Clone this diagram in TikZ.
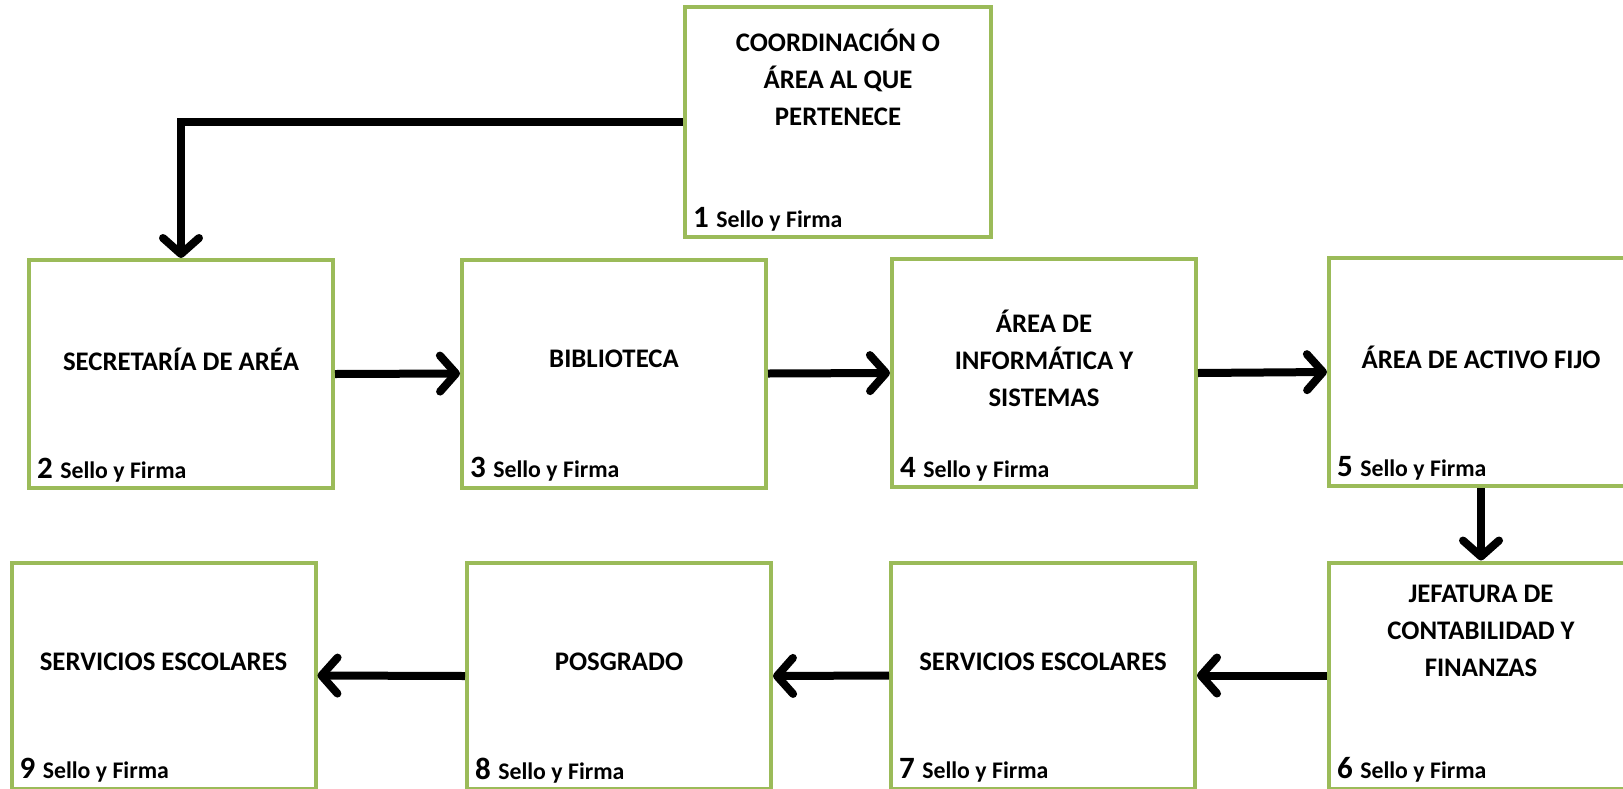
\documentclass[tikz,border=0pt]{standalone}
\usepackage{fontspec}
\setmainfont{Carlito}
\usetikzlibrary{arrows.meta,positioning}
\definecolor{boxgreen}{HTML}{9BBB59}
\tikzset{
  box/.style={draw=boxgreen, line width=4pt, minimum width=304pt,
    minimum height=228pt, inner sep=0pt},
  rowtwo/.style={box, minimum height=228pt},
  rowthree/.style={box, minimum height=226pt},
  title/.style={align=center, inner sep=0pt,
    font=\bfseries\fontsize{26.8}{37}\selectfont},
  sign/.style={anchor=base west, inner sep=0pt,
    font=\bfseries\fontsize{23.8}{24}\selectfont},
  arr/.style={line width=8pt,
    -{Straight Barb[length=16pt, width=36pt, line width=8pt, round]}}
}
\begin{document}
\begin{tikzpicture}[x=1pt, y=-1pt]
  \useasboundingbox (0,0) rectangle (1623,788);
  \clip (0,0) rectangle (1623,788);

  % boxes
  \node[box, minimum width=306pt, minimum height=230pt] (b1) at (838,122) {};
  \node[rowtwo] (b2) at (181,374) {};
  \node[rowtwo] (b3) at (614,373.5) {};
  \node[rowtwo] (b4) at (1044,373) {};
  \node[rowtwo] (b5) at (1481,372) {};
  \node[rowthree] (b6) at (1481,675.5) {};
  \node[rowthree] (b7) at (1043,675.5) {};
  \node[rowthree] (b8) at (619,676) {};
  \node[rowthree] (b9) at (163.5,675.5) {};

  % titles
  \node[title] (t1) at ([yshift=45pt]b1.center) {COORDINACIÓN O\\ÁREA AL QUE\\PERTENECE};
  \node[title] (t2) at ([yshift=15pt]b2.center) {SECRETARÍA DE ARÉA};
  \node[title] (t3) at ([yshift=15pt]b3.center) {BIBLIOTECA};
  \node[title] (t4) at ([yshift=15pt]b4.center) {ÁREA DE\\INFORMÁTICA Y\\SISTEMAS};
  \node[title] (t5) at ([yshift=15pt]b5.center) {ÁREA DE ACTIVO FIJO};
  \node[title] (t6) at ([yshift=45pt]b6.center) {JEFATURA DE\\CONTABILIDAD Y\\FINANZAS};
  \node[title] (t7) at ([yshift=14pt]b7.center) {SERVICIOS ESCOLARES};
  \node[title] (t8) at ([yshift=14pt]b8.center) {POSGRADO};
  \node[title] (t9) at ([yshift=14pt]b9.center) {SERVICIOS ESCOLARES};

  % stamp and signature lines
  \foreach \n in {1,...,9} {
    \node[sign] (s\n) at ([xshift=10pt, yshift=12pt]b\n.south west)
      {{\fontsize{31}{31}\selectfont\n}\hspace{2pt} Sello y Firma};
  }

  % flow
  \draw[arr] (b1.west) -| (b2.north);
  \draw[arr] (b2.east) -- (b3.west);
  \draw[arr] (b3.east) -- (b4.west);
  \draw[arr] (b4.east) -- (b5.west);
  \draw[arr] (b5.south) -- (b6.north);
  \draw[arr] (b6.west) -- (b7.east);
  \draw[arr] (b7.west) -- (b8.east);
  \draw[arr] (b8.west) -- (b9.east);
\end{tikzpicture}
\end{document}
